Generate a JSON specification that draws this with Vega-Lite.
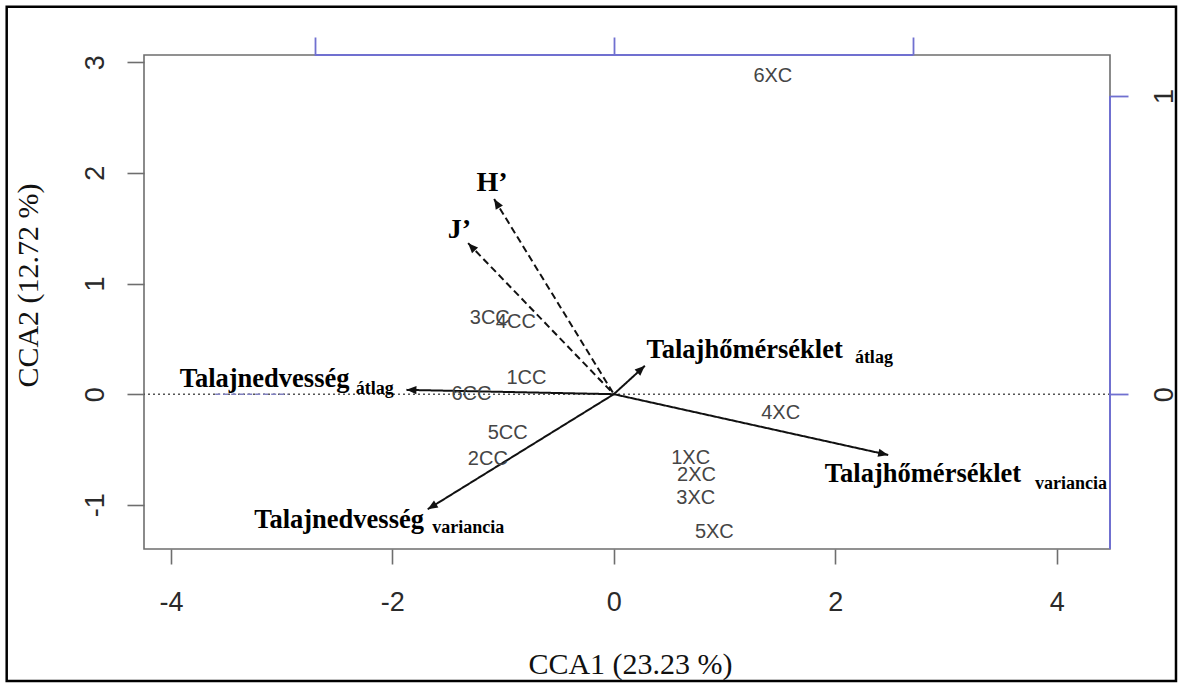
{
  "$schema": "https://vega.github.io/schema/vega-lite/v6.json",
  "width": 966,
  "height": 494,
  "autosize": {"type": "none"},
  "padding": {"left": 144, "top": 55, "right": 73, "bottom": 139},
  "background": "white",
  "config": {
    "view": {"stroke": "#6e6e6e", "strokeWidth": 1.6},
    "axis": {"grid": false}
  },
  "datasets": {
    "sites": [
      {"site": "6XC", "x": 1.436, "y": 2.878},
      {"site": "3CC", "x": -1.12, "y": 0.687},
      {"site": "4CC", "x": -0.885, "y": 0.656},
      {"site": "1CC", "x": -0.789, "y": 0.145},
      {"site": "6CC", "x": -1.286, "y": 0.003},
      {"site": "5CC", "x": -0.958, "y": -0.353},
      {"site": "2CC", "x": -1.138, "y": -0.588},
      {"site": "1XC", "x": 0.694, "y": -0.579},
      {"site": "2XC", "x": 0.747, "y": -0.73},
      {"site": "3XC", "x": 0.74, "y": -0.935},
      {"site": "5XC", "x": 0.908, "y": -1.242},
      {"site": "4XC", "x": 1.507, "y": -0.172}
    ],
    "arrows": [
      {"name": "Talajnedvesség átlag", "x": -1.873, "y": 0.039, "style": "solid"},
      {"name": "Talajhőmérséklet átlag", "x": 0.28, "y": 0.256, "style": "solid"},
      {"name": "Talajhőmérséklet variancia", "x": 2.478, "y": -0.549, "style": "solid"},
      {"name": "Talajnedvesség variancia", "x": -1.681, "y": -1.04, "style": "solid"},
      {"name": "H’", "x": -1.081, "y": 1.763, "style": "dashed"},
      {"name": "J’", "x": -1.316, "y": 1.365, "style": "dashed"}
    ],
    "labels": [
      {"text": "Talajnedvesség", "x": -3.921, "y": 0.069, "role": "main"},
      {"text": "átlag", "x": -2.331, "y": 0.003, "role": "sub"},
      {"text": "Talajhőmérséklet", "x": 0.295, "y": 0.325, "role": "main"},
      {"text": "átlag", "x": 2.177, "y": 0.28, "role": "sub"},
      {"text": "Talajhőmérséklet", "x": 1.906, "y": -0.79, "role": "main"},
      {"text": "variancia", "x": 3.803, "y": -0.859, "role": "sub"},
      {"text": "Talajnedvesség", "x": -3.248, "y": -1.212, "role": "main"},
      {"text": "variancia", "x": -1.64, "y": -1.257, "role": "sub"},
      {"text": "H’", "x": -1.24, "y": 1.832, "role": "index"},
      {"text": "J’", "x": -1.5, "y": 1.41, "role": "index"}
    ]
  },
  "resolve": {"scale": {"x": "independent", "y": "independent"}},
  "layer": [
    {
      "layer": [
        {
          "data": {"values": [{}]},
          "mark": {"type": "rule", "color": "#555555", "strokeWidth": 1.5, "strokeDash": [2, 3]},
          "encoding": {
            "x": {"datum": 0, "type": "quantitative", "scale": {"domain": [-4.243, 4.481], "nice": false, "zero": false},
              "axis": {"title": "CCA1 (23.23 %)", "values": [-4, -2, 0, 2, 4], "labelExpr": "'' + datum.value", "domain": false, "tickSize": 15, "tickColor": "#6e6e6e", "tickWidth": 1.6,
                "labelFont": "Liberation Sans", "labelFontSize": 27, "labelColor": "#2a2a2a", "labelBaseline": "alphabetic", "labelPadding": 46, "labelFlush": false, "labelOverlap": false,
                "titleFont": "Liberation Serif", "titleFontSize": 30, "titleFontWeight": "normal", "titleColor": "#111111", "titleBaseline": "alphabetic", "titleY": 124, "titleX": 486}},
            "y": {"datum": 0, "type": "quantitative", "scale": {"domain": [-1.399, 3.065], "nice": false, "zero": false},
              "axis": {"title": "CCA2 (12.72 %)", "values": [-1, 0, 1, 2, 3], "labelExpr": "'' + datum.value", "domain": false, "tickSize": 17, "tickColor": "#6e6e6e", "tickWidth": 1.6,
                "labelFont": "Liberation Sans", "labelFontSize": 27, "labelColor": "#2a2a2a", "labelAngle": -90, "labelAlign": "center", "labelBaseline": "alphabetic", "labelPadding": 24, "labelFlush": false, "labelOverlap": false,
                "titleFont": "Liberation Serif", "titleFontSize": 30, "titleFontWeight": "normal", "titleColor": "#111111", "titleAngle": -90, "titleAlign": "center", "titleBaseline": "alphabetic", "titleX": -107, "titleY": 230}}
          }
        },
        {
          "data": {"values": [{}]},
          "mark": {"type": "rule", "color": "#555555", "strokeWidth": 1.5, "strokeDash": [2, 3]},
          "encoding": {
            "y": {"datum": 0, "type": "quantitative", "scale": {"domain": [-1.399, 3.065], "nice": false, "zero": false}}
          }
        },
        {
          "data": {"values": [{}]},
          "mark": {"type": "rule", "color": "#8080c0", "strokeWidth": 1.5, "strokeDash": [5, 3]},
          "encoding": {
            "x": {"datum": -3.6, "type": "quantitative", "scale": {"domain": [-4.243, 4.481], "nice": false, "zero": false}},
            "x2": {"datum": -2.94},
            "y": {"datum": 0, "type": "quantitative", "scale": {"domain": [-1.399, 3.065], "nice": false, "zero": false}}
          }
        },
        {
          "data": {"name": "arrows"},
          "mark": {"type": "rule", "color": "#111111", "strokeWidth": 2},
          "encoding": {
            "x": {"field": "x", "type": "quantitative", "scale": {"domain": [-4.243, 4.481], "nice": false, "zero": false}},
            "y": {"field": "y", "type": "quantitative", "scale": {"domain": [-1.399, 3.065], "nice": false, "zero": false}},
            "x2": {"datum": 0},
            "y2": {"datum": 0},
            "strokeDash": {"field": "style", "type": "nominal", "scale": {"domain": ["solid", "dashed"], "range": [[1, 0], [7, 4]]}, "legend": null}
          }
        },
        {
          "data": {"name": "arrows"},
          "transform": [{"calculate": "atan2(datum.x, datum.y) * 180 / PI", "as": "angle"}],
          "mark": {"type": "point", "shape": "M0,0 L-0.42,1 L0.42,1 Z", "filled": true, "color": "#111111", "opacity": 1, "size": 400},
          "encoding": {
            "x": {"field": "x", "type": "quantitative", "scale": {"domain": [-4.243, 4.481], "nice": false, "zero": false}},
            "y": {"field": "y", "type": "quantitative", "scale": {"domain": [-1.399, 3.065], "nice": false, "zero": false}},
            "angle": {"field": "angle", "type": "quantitative", "scale": null}
          }
        },
        {
          "data": {"name": "sites"},
          "mark": {"type": "text", "font": "Liberation Sans", "fontSize": 20, "color": "#454545", "align": "center", "baseline": "middle"},
          "encoding": {
            "x": {"field": "x", "type": "quantitative", "scale": {"domain": [-4.243, 4.481], "nice": false, "zero": false}},
            "y": {"field": "y", "type": "quantitative", "scale": {"domain": [-1.399, 3.065], "nice": false, "zero": false}},
            "text": {"field": "site", "type": "nominal"}
          }
        },
        {
          "data": {"name": "labels"},
          "transform": [{"filter": "datum.role === 'main'"}],
          "mark": {"type": "text", "font": "Liberation Serif", "fontWeight": "bold", "fontSize": 26.5, "color": "#000000", "align": "left", "baseline": "alphabetic"},
          "encoding": {
            "x": {"field": "x", "type": "quantitative", "scale": {"domain": [-4.243, 4.481], "nice": false, "zero": false}},
            "y": {"field": "y", "type": "quantitative", "scale": {"domain": [-1.399, 3.065], "nice": false, "zero": false}},
            "text": {"field": "text", "type": "nominal"}
          }
        },
        {
          "data": {"name": "labels"},
          "transform": [{"filter": "datum.role === 'sub'"}],
          "mark": {"type": "text", "font": "Liberation Serif", "fontWeight": "bold", "fontSize": 18, "color": "#000000", "align": "left", "baseline": "alphabetic"},
          "encoding": {
            "x": {"field": "x", "type": "quantitative", "scale": {"domain": [-4.243, 4.481], "nice": false, "zero": false}},
            "y": {"field": "y", "type": "quantitative", "scale": {"domain": [-1.399, 3.065], "nice": false, "zero": false}},
            "text": {"field": "text", "type": "nominal"}
          }
        },
        {
          "data": {"name": "labels"},
          "transform": [{"filter": "datum.role === 'index'"}],
          "mark": {"type": "text", "font": "Liberation Serif", "fontWeight": "bold", "fontSize": 28, "color": "#000000", "align": "left", "baseline": "alphabetic"},
          "encoding": {
            "x": {"field": "x", "type": "quantitative", "scale": {"domain": [-4.243, 4.481], "nice": false, "zero": false}},
            "y": {"field": "y", "type": "quantitative", "scale": {"domain": [-1.399, 3.065], "nice": false, "zero": false}},
            "text": {"field": "text", "type": "nominal"}
          }
        },
        {
          "data": {"values": [{}]},
          "mark": {"type": "rect", "fillOpacity": 0, "stroke": "#000000", "strokeWidth": 2.5},
          "encoding": {
            "x": {"datum": -5.483, "type": "quantitative", "scale": {"domain": [-4.243, 4.481], "nice": false, "zero": false}},
            "x2": {"datum": 5.077},
            "y": {"datum": 3.502, "type": "quantitative", "scale": {"domain": [-1.399, 3.065], "nice": false, "zero": false}},
            "y2": {"datum": -2.592}
          }
        }
      ]
    },
    {
      "data": {"values": [{}]},
      "mark": {"type": "rule", "color": "#7070d0", "strokeWidth": 2},
      "encoding": {
        "x": {"datum": -1, "type": "quantitative", "scale": {"domain": [-1.571, 1.659], "nice": false, "zero": false},
          "axis": {"orient": "top", "values": [-1, 0, 1], "labels": false, "title": null, "domain": false, "tickColor": "#7070d0", "tickSize": 18, "tickWidth": 1.8}},
        "x2": {"datum": 1},
        "y": {"datum": 1, "type": "quantitative", "scale": {"domain": [0, 1], "nice": false, "zero": false}, "axis": null}
      }
    },
    {
      "data": {"values": [{}]},
      "mark": {"type": "rule", "color": "#7070d0", "strokeWidth": 2},
      "encoding": {
        "x": {"datum": 4.481, "type": "quantitative", "scale": {"domain": [-4.243, 4.481], "nice": false, "zero": false}, "axis": null},
        "y": {"datum": 1, "type": "quantitative", "scale": {"domain": [-0.519, 1.1376], "nice": false, "zero": false},
          "axis": {"orient": "right", "values": [0, 1], "title": null, "domain": false, "tickColor": "#7070d0", "tickSize": 18, "tickWidth": 1.8,
            "labelAngle": -90, "labelAlign": "center", "labelBaseline": "alphabetic", "labelPadding": 44, "labelFont": "Liberation Sans", "labelFontSize": 27, "labelColor": "#2a2a2a", "labelFlush": false, "labelOverlap": false}},
        "y2": {"datum": -0.519}
      }
    }
  ]
}
